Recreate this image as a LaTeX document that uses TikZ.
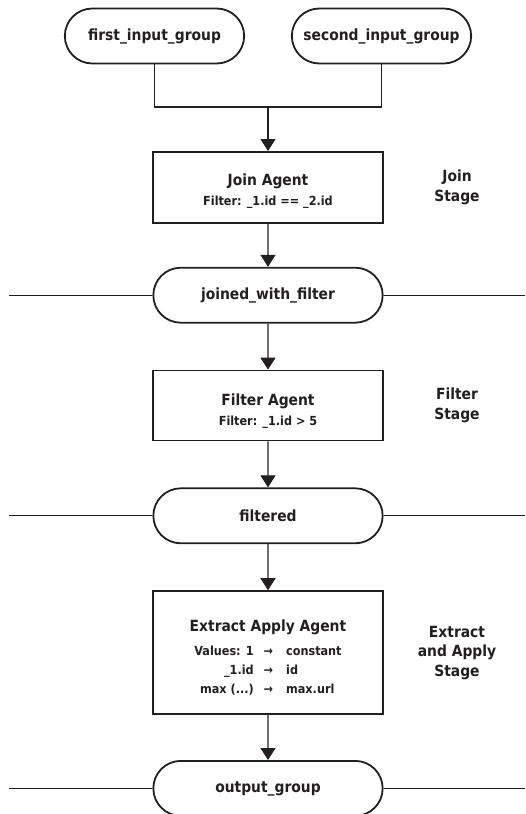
\documentclass[tikz,border=0pt]{standalone}
\usepackage{fontspec}
\setmainfont{DejaVu Sans Condensed}
\usepackage{xcolor}
\usepackage{tikz}
\usetikzlibrary{positioning, arrows.meta, shapes.misc}

\definecolor{ink}{RGB}{35,31,32}

\begin{document}
\begin{tikzpicture}[
        x=1pt, y=-1pt,
        group/.style={
            draw=ink,
            rounded rectangle,
            align=center,
            fill=white,
            text=ink,
            font=\fontsize{15.4}{19}\selectfont\bfseries,
            minimum height=55pt,
            minimum width=236pt,
            line width=1.8pt
        },
        agent/.style={
            draw=ink,
            rectangle,
            align=center,
            fill=white,
            text=ink,
            font=\fontsize{15.4}{19}\selectfont\bfseries,
            minimum width=230pt,
            line width=1.8pt
        },
        stage/.style={
            align=center,
            text=ink,
            font=\fontsize{15.4}{19.5}\selectfont\bfseries
        },
        arrow/.style={
            -{Triangle[width=15pt,length=12pt]},
            line width=1.2pt,
            draw=ink
        },
        link/.style={
            line width=1.2pt,
            draw=ink
        }
    ]
        \useasboundingbox (0,0) rectangle (525,814);

        % Inputs
        \node (first) [group, minimum width=186pt] at (154.5,36) {first\_input\_group};
        \node (second) [group, minimum width=186pt] at (381.5,36) {second\_input\_group};
        \coordinate (merge) at (268,107);
        \coordinate (leftedge) at (9,0);
        \coordinate (rightedge) at (525,0);

        % Join stage
        \node (join) [agent, minimum height=71pt, below=44pt of merge] {\rule{0pt}{20pt}Join Agent\\[1pt]{\fontsize{12.5}{15}\selectfont Filter: \_1.id == \_2.id}};
        \node (joinstage) [stage, xshift=189pt] at (join) {Join\\Stage};
        \node (joined) [group, below=43pt of join] {joined\_with\_filter};

        % Filter stage
        \node (filter) [agent, minimum height=70pt, below=46pt of joined] {\rule{0pt}{22pt}Filter Agent\\[1pt]{\fontsize{12.5}{15}\selectfont Filter: \_1.id > 5}};
        \node (filterstage) [stage, xshift=189pt] at (filter) {Filter\\Stage};
        \node (filtered) [group, below=46pt of filter] {filtered};

        % Extract and apply stage
        \node (extract) [agent, minimum height=123pt, below=46pt of filtered] {\rule{0pt}{26pt}Extract Apply Agent\\[6pt]
            {\fontsize{12.5}{19}\selectfont
            \begin{tabular}{@{}r@{\hspace{10pt}}c@{\hspace{13pt}}l@{}}
                Values: 1 & → & constant\\
                \_1.id & → & id\\
                max (...) & → & max.url
            \end{tabular}}};
        \node (extractstage) [stage, xshift=189pt] at (extract) {Extract\\and Apply\\Stage};
        \node (output) [group, below=45pt of extract] {output\_group};

        % Connections
        \draw [link] (first.south) |- (merge) -| (second.south);
        \draw [arrow] (merge) -- (join.north);
        \draw [arrow] (join) -- (joined);
        \draw [arrow] (joined) -- (filter);
        \draw [arrow] (filter) -- (filtered);
        \draw [arrow] (filtered) -- (extract);
        \draw [arrow] (extract) -- (output);

        % Side lines
        \draw [link] (joined.west) -- (joined.west -| leftedge);
        \draw [link] (joined.east) -- (joined.east -| rightedge);
        \draw [link] (filtered.west) -- (filtered.west -| leftedge);
        \draw [link] (filtered.east) -- (filtered.east -| rightedge);
        \draw [link] (output.west) -- (output.west -| leftedge);
        \draw [link] (output.east) -- (output.east -| rightedge);
    \end{tikzpicture}
\end{document}
